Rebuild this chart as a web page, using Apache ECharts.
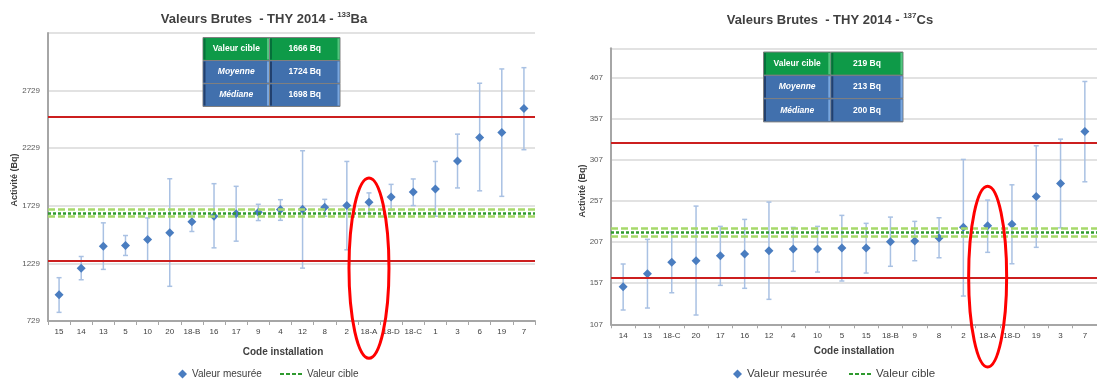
<!DOCTYPE html>
<html><head><meta charset="utf-8">
<script src="https://cdn.jsdelivr.net/npm/echarts@6/dist/echarts.min.js"></script>
<style>html,body{margin:0;padding:0;background:#fff}#c{width:1097px;height:380px}</style>
</head><body><div id="c"></div>
<script>
// ---------- 133Ba ----------
const baCategories = ['15','14','13','5','10','20','18-B','16','17','9','4','12','8','2','18-A','18-D','18-C','1','3','6','19','7'];
const baValues = [957,1187,1378,1384,1436,1495,1591,1638,1661,1673,1696,1699,1716,1731,1759,1806,1849,1875,2118,2322,2365,2573];
const baLow    = [804,1087,1177,1298,1252,1030,1506,1364,1422,1601,1603,1188,1638,1347,1664,1693,1731,1638,1884,1859,1811,2216];
const baHigh   = [1105,1289,1581,1471,1624,1964,1673,1921,1898,1742,1782,2207,1785,2114,1841,1915,1962,2114,2351,2793,2917,2928];
const baTicks  = [729,1229,1729,2229,2729,3229];
const baTarget = 1666;
const baTargetBand = [1634,1698];
const baLimits = [1249.5,2499];
const baTable  = ['1666 Bq','1724 Bq','1698 Bq'];
const baEllipse = [406,1970];
// ---------- 137Cs ----------
const csCategories = ['14','13','18-C','20','17','16','12','4','10','5','15','18-B','9','8','2','18-A','18-D','19','3','7'];
const csValues = [152.7,168.6,182.4,184.4,190.5,192.5,196.5,198.6,198.6,199.8,199.8,207.5,208.3,212,225,227,228.7,262.7,278.5,341.8];
const csLow    = [124.4,126.8,145.4,118.3,154.4,150.8,137.4,171.5,170.6,159.7,169.4,177.6,184.4,188,141.4,194.6,180.7,200.7,224.5,280.5];
const csHigh   = [180.4,210.4,219.3,250.9,226.2,234.7,255.8,225,226.2,239.6,229.9,237.5,232.3,236.7,307.7,258.2,276.8,324.3,332.4,402.6];
const csTicks  = [107,157,207,257,307,357,407];
const csMax    = 443;
const csTarget = 219;
const csTargetBand = [214.4,223.6];
const csLimits = [164.25,328.5];
const csTable  = ['219 Bq','213 Bq','200 Bq'];
const csEllipse = [55,275];
// ---------- shared ----------
const tableLabels = ['Valeur cible','Moyenne','Médiane'];
const highlightCategory = '18-A';
const titleBa = ['Valeurs Brutes  - THY 2014 - ','133','Ba'];
const titleCs = ['Valeurs Brutes  - THY 2014 - ','137','Cs'];
const yName = 'Activité (Bq)';
const xName = 'Code installation';
const seriesMeasured = 'Valeur mesurée';
const seriesTarget = 'Valeur cible';

const FONT = '"Liberation Sans", Arial, sans-serif';
const TXT = '#404040';
const AXC = '#a6a6a6';
const GRIDC = '#d9d9d9';
const ERRC = '#a9c1e3';
const PTC = '#4a7dc0';
const DARKG = '#2f9a2f';
const LIGHTG = '#a6d96a';
const REDL = '#cc1f1f';

const chart = echarts.init(document.getElementById('c'), null, {renderer:'canvas'});

function errorBar(params, api){
  const x = api.value(0);
  const lo = api.coord([x, api.value(1)]);
  const hi = api.coord([x, api.value(2)]);
  const w = 2.5;
  const style = {stroke: ERRC, lineWidth: 1.5};
  return {type:'group', children:[
    {type:'line', shape:{x1:lo[0],y1:lo[1],x2:hi[0],y2:hi[1]}, style},
    {type:'line', shape:{x1:lo[0]-w,y1:lo[1],x2:lo[0]+w,y2:lo[1]}, style},
    {type:'line', shape:{x1:hi[0]-w,y1:hi[1],x2:hi[0]+w,y2:hi[1]}, style}
  ]};
}

function yAxisDef(gi, ticks, max){
  return {
    type:'value', gridIndex: gi,
    min: ticks[0], max: max, interval: ticks[1]-ticks[0],
    axisLine:{show:true, lineStyle:{color:AXC, width:2}},
    axisTick:{show:false},
    splitLine:{show:true, lineStyle:{color:GRIDC, width:1.5}},
    axisLabel:{showMaxLabel:false, fontSize:8, color:'#595959', margin:8, fontFamily:FONT,
      formatter: v => String(v)}
  };
}
function xAxisDef(gi, cats){
  return {
    type:'category', gridIndex: gi, data: cats, boundaryGap:true,
    axisLine:{show:true, lineStyle:{color:AXC, width:2}},
    axisTick:{show:true, length:4, lineStyle:{color:AXC, width:1}},
    splitLine:{show:false},
    axisLabel:{interval:0, fontSize:8, color:'#404040', margin:7, fontFamily:FONT}
  };
}

function seriesFor(gi, cats, vals, lo, hi, target, band, limits){
  return [
    {type:'custom', name:'err'+gi, xAxisIndex:gi, yAxisIndex:gi, z:2, silent:true,
     renderItem: errorBar, encode:{x:0, y:[1,2]},
     data: cats.map((c,i)=>[i, lo[i], hi[i]])},
    {type:'line', name:'lim'+gi, xAxisIndex:gi, yAxisIndex:gi, z:3, data:[], silent:true,
     markLine:{silent:true, symbol:'none', label:{show:false}, animation:false,
       data:[
         {yAxis: limits[0], lineStyle:{color:REDL, width:2, type:'solid'}},
         {yAxis: limits[1], lineStyle:{color:REDL, width:2, type:'solid'}},
         {yAxis: band[0], lineStyle:{color:LIGHTG, width:2.5, type:[7,3]}},
         {yAxis: band[1], lineStyle:{color:LIGHTG, width:2.5, type:[7,3]}}
       ]}},
    {type:'line', name:seriesTarget, xAxisIndex:gi, yAxisIndex:gi, z:3, data:[],
     itemStyle:{color:DARKG}, lineStyle:{color:DARKG, type:[3,2], width:2},
     markLine:{silent:true, symbol:'none', label:{show:false}, animation:false,
       data:[{yAxis: target, lineStyle:{color:DARKG, width:2.5, type:[3,2]}}]}},
    {type:'scatter', name:seriesMeasured, xAxisIndex:gi, yAxisIndex:gi, z:4,
     symbol:'diamond', symbolSize:9, itemStyle:{color:PTC, opacity:1},
     data: vals}
  ];
}

const dashIcon = 'path://M0,0h4v2h-4zM6,0h4v2h-4zM12,0h4v2h-4zM18,0h4v2h-4z';
function legends(x1, x2, top, fs){
  const base = {orient:'horizontal', padding:0, itemGap:0, selectedMode:false,
    textStyle:{fontSize:fs, color:TXT, fontFamily:FONT}};
  return [
    Object.assign({}, base, {left:x1, top:top, itemWidth:9, itemHeight:9,
      data:[{name:seriesMeasured, icon:'diamond', itemStyle:{color:PTC, opacity:1}}]}),
    Object.assign({}, base, {left:x2, top:top, itemWidth:22, itemHeight:2,
      data:[{name:seriesTarget, icon:dashIcon}]})
  ];
}

function titleEl(id, x, y, parts){
  return {type:'text', id, x, y, z:20,
    style:{text:'{b|'+parts[0]+'}{s|'+parts[1]+'}{b|'+parts[2]+'}',
      align:'center', verticalAlign:'middle',
      rich:{
        b:{fontSize:13, fontWeight:'bold', fill:TXT, fontFamily:FONT, lineHeight:16, verticalAlign:'middle'},
        s:{fontSize:8, fontWeight:'bold', fill:TXT, fontFamily:FONT, lineHeight:16, verticalAlign:'top', padding:[0,0,0,0]}
      }}};
}

function tableEls(prefix, x0, y0, colW, rowH, values){
  const els = [];
  const pal = [
    {fill:'#0e9a48', dark:'#05703a', light:'#52c57f'},
    {fill:'#4170ad', dark:'#22406e', light:'#78a6df'},
    {fill:'#4170ad', dark:'#22406e', light:'#78a6df'}
  ];
  for (let r=0;r<3;r++){
    let x = x0;
    for (let c=0;c<2;c++){
      const w = colW[c], y = y0 + r*rowH, p = pal[r];
      els.push({type:'rect', id:prefix+'r'+r+c, z:10, shape:{x:x, y:y, width:w, height:rowH},
        style:{fill:p.fill, stroke:'#7f7f7f', lineWidth:1}});
      els.push({type:'line', id:prefix+'d'+r+c, z:11, shape:{x1:x+1.5, y1:y+1, x2:x+1.5, y2:y+rowH-1},
        style:{stroke:p.dark, lineWidth:2}});
      els.push({type:'line', id:prefix+'l'+r+c, z:11, shape:{x1:x+w-1.5, y1:y+1, x2:x+w-1.5, y2:y+rowH-1},
        style:{stroke:p.light, lineWidth:2}});
      const txt = c===0 ? tableLabels[r] : values[r];
      els.push({type:'text', id:prefix+'t'+r+c, z:12, x:x+w/2, y:y+rowH/2,
        style:{text:txt, fill:'#ffffff', fontSize:8.5, fontWeight:'bold',
          fontStyle:(c===0 && r>0)?'italic':'normal',
          fontFamily:FONT, align:'center', verticalAlign:'middle'}});
      x += w;
    }
  }
  return els;
}

const graphics = [].concat(
  [titleEl('t1', 264, 19, titleBa), titleEl('t2', 830, 20, titleCs)],
  tableEls('a', 203, 37.5, [66.5,70.5], 23, baTable),
  tableEls('b', 763.5, 52, [67.3,72.2], 23.3, csTable),
  [
    {type:'text', id:'yn1', x:15, y:180, rotation:Math.PI/2, z:20,
     style:{text:yName, fontSize:9, fontWeight:'bold', fill:TXT, fontFamily:FONT, align:'center', verticalAlign:'middle'}},
    {type:'text', id:'yn2', x:583, y:191, rotation:Math.PI/2, z:20,
     style:{text:yName, fontSize:9, fontWeight:'bold', fill:TXT, fontFamily:FONT, align:'center', verticalAlign:'middle'}},
    {type:'text', id:'xn1', x:283, y:352, z:20,
     style:{text:xName, fontSize:10, fontWeight:'bold', fill:TXT, fontFamily:FONT, align:'center', verticalAlign:'middle'}},
    {type:'text', id:'xn2', x:854, y:351, z:20,
     style:{text:xName, fontSize:10, fontWeight:'bold', fill:TXT, fontFamily:FONT, align:'center', verticalAlign:'middle'}}
  ]
);

const option = {
  animation:false,
  backgroundColor:'#ffffff',
  grid:[
    {left:48, top:33, width:487, height:288},
    {left:611, top:48.3, width:493, height:276}
  ],
  xAxis:[xAxisDef(0, baCategories), xAxisDef(1, csCategories)],
  yAxis:[yAxisDef(0, baTicks, baTicks[baTicks.length-1]), yAxisDef(1, csTicks, csMax)],
  legend:[].concat(legends(178, 280, 369, 10), legends(733, 849, 368, 11.5)),
  series:[].concat(
    seriesFor(0, baCategories, baValues, baLow, baHigh, baTarget, baTargetBand, baLimits),
    seriesFor(1, csCategories, csValues, csLow, csHigh, csTarget, csTargetBand, csLimits)
  ),
  graphic: graphics
};
chart.setOption(option);

function ellipseEl(id, gi, range){
  const top = chart.convertToPixel({gridIndex:gi}, [highlightCategory, range[1]]);
  const bot = chart.convertToPixel({gridIndex:gi}, [highlightCategory, range[0]]);
  return {type:'ellipse', id, z:100, silent:true,
    shape:{cx: top[0], cy:(top[1]+bot[1])/2, rx: gi===0?20:19, ry: Math.abs(bot[1]-top[1])/2},
    style:{fill:'none', stroke:'#ff0000', lineWidth:3}};
}
chart.setOption({graphic: graphics.concat([ellipseEl('e1',0,baEllipse), ellipseEl('e2',1,csEllipse)])});
</script></body></html>
